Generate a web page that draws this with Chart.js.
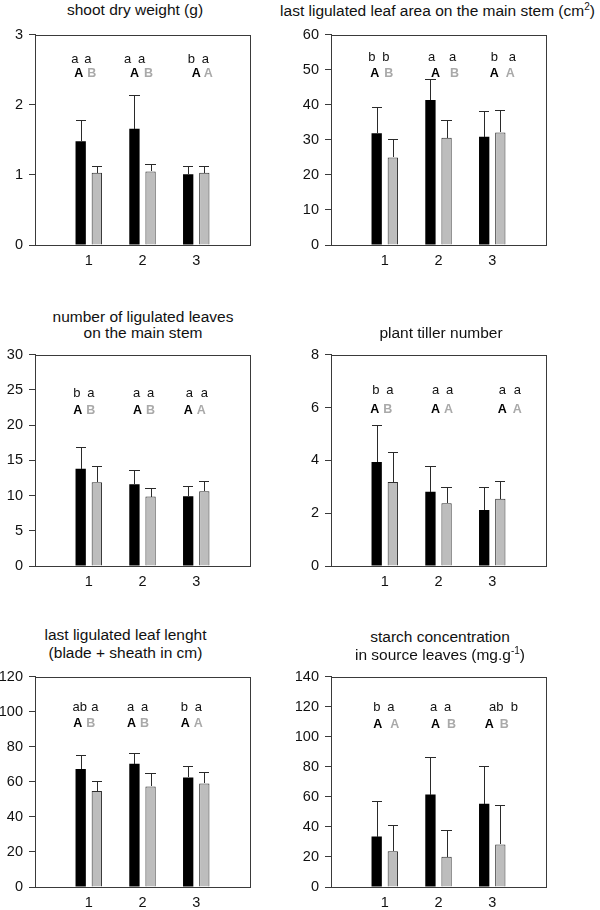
<!DOCTYPE html>
<html>
<head>
<meta charset="utf-8">
<script src="https://cdn.jsdelivr.net/npm/chart.js@4.4.1/dist/chart.umd.min.js"></script>
<style>
  html, body { margin: 0; padding: 0; background: #fff; }
  #page { position: relative; width: 600px; height: 910px; overflow: hidden;
          font-family: "Liberation Sans", Arial, Helvetica, sans-serif; color: #111; }
  .ttl { position: absolute; width: 400px; text-align: center; font-size: 15.5px;
         line-height: 18px; white-space: nowrap; }
  .ttl sup { font-size: 10px; line-height: 0; vertical-align: 6px; }
  canvas { position: absolute; }
</style>
</head>
<body>
<div id="page"></div>
<script>
const groups = ['1', '2', '3'];

/* shoot dry weight (g) */
const shootBlack   = [1.48, 1.66, 1.01];
const shootBlackSd = [0.30, 0.48, 0.12];
const shootGrey    = [1.03, 1.05, 1.03];
const shootGreySd  = [0.10, 0.11, 0.10];
const shootLower   = [['a', 'a'], ['a', 'a'], ['b', 'a']];
const shootUpper   = [['A', 'B'], ['A', 'B'], ['A', 'A']];
const shootTicks   = [0, 1, 2, 3];

/* last ligulated leaf area (cm2) */
const areaBlack   = [31.9, 41.4, 30.9];
const areaBlackSd = [7.5, 5.9, 7.3];
const areaGrey    = [25.0, 30.6, 32.1];
const areaGreySd  = [5.2, 5.2, 6.4];
const areaLower   = [['b', 'b'], ['a', 'a'], ['b', 'a']];
const areaUpper   = [['A', 'B'], ['A', 'B'], ['A', 'A']];
const areaTicks   = [0, 10, 20, 30, 40, 50, 60];

/* number of ligulated leaves */
const leavesBlack   = [13.8, 11.6, 9.9];
const leavesBlackSd = [3.1, 2.1, 1.4];
const leavesGrey    = [11.9, 9.85, 10.6];
const leavesGreySd  = [2.3, 1.25, 1.5];
const leavesLower   = [['b', 'a'], ['a', 'a'], ['a', 'a']];
const leavesUpper   = [['A', 'B'], ['A', 'B'], ['A', 'A']];
const leavesTicks   = [0, 5, 10, 15, 20, 25, 30];

/* plant tiller number */
const tillerBlack   = [3.94, 2.81, 2.12];
const tillerBlackSd = [1.39, 0.99, 0.88];
const tillerGrey    = [3.18, 2.38, 2.55];
const tillerGreySd  = [1.14, 0.60, 0.65];
const tillerLower   = [['b', 'a'], ['a', 'a'], ['a', 'a']];
const tillerUpper   = [['A', 'B'], ['A', 'A'], ['A', 'A']];
const tillerTicks   = [0, 2, 4, 6, 8];

/* last ligulated leaf length (cm) */
const lengthBlack   = [67.3, 70.3, 62.5];
const lengthBlackSd = [7.9, 6.4, 6.7];
const lengthGrey    = [54.8, 57.4, 59.1];
const lengthGreySd  = [5.6, 7.9, 6.5];
const lengthLower   = [['ab', 'a'], ['a', 'a'], ['b', 'a']];
const lengthUpper   = [['A', 'B'], ['A', 'B'], ['A', 'A']];
const lengthTicks   = [0, 20, 40, 60, 80, 100, 120];

/* starch concentration (mg.g-1) */
const starchBlack   = [33.6, 61.5, 55.4];
const starchBlackSd = [23.5, 24.9, 25.1];
const starchGrey    = [23.8, 20.1, 28.3];
const starchGreySd  = [17.2, 17.8, 26.2];
const starchLower   = [['b', 'a'], ['a', 'a'], ['ab', 'b']];
const starchUpper   = [['A', 'A'], ['A', 'B'], ['A', 'B']];
const starchTicks   = [0, 20, 40, 60, 80, 100, 120, 140];

const FONT = '"Liberation Sans", Arial, Helvetica, sans-serif';
const AXIS = '#3a3a3a';

/* layout: plot box position, titles, letter rows (y in data units) and letter x offsets */
const panels = [
  { black: shootBlack, blackSd: shootBlackSd, grey: shootGrey, greySd: shootGreySd,
    lower: shootLower, upper: shootUpper, ticks: shootTicks,
    plotLeft: 35, plotTop: 32, plotW: 215, plotH: 213,
    title: ['shoot dry weight (g)'], titleX: 135, titleY: [10],
    lowerY: 2.65, upperY: 2.44,
    dx: [[-14, -1, -10, 3], [-15, -1, -8, 6], [-5, 9, 0, 12]] },
  { black: areaBlack, blackSd: areaBlackSd, grey: areaGrey, greySd: areaGreySd,
    lower: areaLower, upper: areaUpper, ticks: areaTicks,
    plotLeft: 331, plotTop: 32, plotW: 215, plotH: 213,
    title: ['last ligulated leaf area on the main stem (cm<sup>2</sup>)'], titleX: 437.5, titleY: [11],
    lowerY: 53.5, upperY: 49,
    dx: [[-13, 1, -10, 4], [-7, 14, -3, 16], [2, 20, 2, 18]] },
  { black: leavesBlack, blackSd: leavesBlackSd, grey: leavesGrey, greySd: leavesGreySd,
    lower: leavesLower, upper: leavesUpper, ticks: leavesTicks,
    plotLeft: 35, plotTop: 352, plotW: 215, plotH: 214,
    title: ['number of ligulated leaves', 'on the main stem'], titleX: 143, titleY: [316.7, 333.3],
    lowerY: 24.5, upperY: 22,
    dx: [[-12, 2, -11, 2], [-6, 8, -5, 8], [-7, 8, -8, 5]] },
  { black: tillerBlack, blackSd: tillerBlackSd, grey: tillerGrey, greySd: tillerGreySd,
    lower: tillerLower, upper: tillerUpper, ticks: tillerTicks,
    plotLeft: 331, plotTop: 352, plotW: 215, plotH: 214,
    title: ['plant tiller number'], titleX: 441, titleY: [333.3],
    lowerY: 6.65, upperY: 5.94,
    dx: [[-9, 5, -10, 3], [-3, 11, -3, 10], [10, 25, 10, 25]] },
  { black: lengthBlack, blackSd: lengthBlackSd, grey: lengthGrey, greySd: lengthGreySd,
    lower: lengthLower, upper: lengthUpper, ticks: lengthTicks,
    plotLeft: 35, plotTop: 674, plotW: 215, plotH: 213.5,
    title: ['last ligulated leaf lenght', '(blade + sheath in cm)'], titleX: 125.5, titleY: [635, 653.3],
    lowerY: 102.5, upperY: 93.3,
    dx: [[-9, 6, -11, 2], [-12, 2, -11, 2], [-12, 2, -11, 2]] },
  { black: starchBlack, blackSd: starchBlackSd, grey: starchGrey, greySd: starchGreySd,
    lower: starchLower, upper: starchUpper, ticks: starchTicks,
    plotLeft: 331, plotTop: 674, plotW: 215, plotH: 213.5,
    title: ['starch concentration', 'in source leaves (mg.g<sup>-1</sup>)'], titleX: 440, titleY: [636.7, 655],
    lowerY: 119.6, upperY: 108.2,
    dx: [[-8, 6, -7, 10], [-5, 9, -3, 13], [4, 22, -3, 12]] },
];

function boxPlugin() {
  return {
    id: 'box',
    afterDraw(chart) {
      const { ctx, chartArea: a } = chart;
      ctx.save();
      ctx.strokeStyle = AXIS;
      ctx.lineWidth = 1;
      ctx.strokeRect(Math.round(a.left) + 0.5, Math.round(a.top) + 0.5,
                     Math.round(a.right - a.left), Math.round(a.bottom - a.top));
      ctx.restore();
    }
  };
}

function errorBarPlugin() {
  return {
    id: 'errorBars',
    afterDatasetsDraw(chart) {
      const ctx = chart.ctx, y = chart.scales.y;
      ctx.save();
      ctx.strokeStyle = '#2a2a2a';
      ctx.lineWidth = 1;
      chart.data.datasets.forEach((ds, di) => {
        chart.getDatasetMeta(di).data.forEach((bar, i) => {
          const top = Math.round(y.getPixelForValue(ds.data[i].y + ds.sd[i])) + 0.5;
          const xc = Math.round(bar.x) + 0.5, half = bar.width / 2;
          ctx.beginPath();
          ctx.moveTo(xc, Math.round(bar.y));
          ctx.lineTo(xc, top);
          ctx.moveTo(Math.round(bar.x - half), top);
          ctx.lineTo(Math.round(bar.x + half), top);
          ctx.stroke();
        });
      });
      ctx.restore();
    }
  };
}

function letterPlugin(p) {
  return {
    id: 'letters',
    afterDraw(chart) {
      const { ctx, scales: { x, y } } = chart;
      const yl = y.getPixelForValue(p.lowerY), yu = y.getPixelForValue(p.upperY);
      ctx.save();
      ctx.textAlign = 'center';
      ctx.textBaseline = 'middle';
      groups.forEach((g, i) => {
        const cx = x.getPixelForValue(i + 1), o = p.dx[i];
        ctx.font = '13px ' + FONT;
        ctx.fillStyle = '#111';
        ctx.fillText(p.lower[i][0], cx + o[0], yl);
        ctx.fillText(p.lower[i][1], cx + o[1], yl);
        ctx.font = 'bold 12.5px ' + FONT;
        ctx.fillStyle = '#000';
        ctx.fillText(p.upper[i][0], cx + o[2], yu);
        ctx.fillStyle = '#a9a9a9';
        ctx.fillText(p.upper[i][1], cx + o[3], yu);
      });
      ctx.restore();
    }
  };
}

function makeChart(p) {
  const page = document.getElementById('page');
  p.title.forEach((line, k) => {
    const d = document.createElement('div');
    d.className = 'ttl';
    d.style.left = (p.titleX - 200) + 'px';
    d.style.top = (p.titleY[k] - 9) + 'px';
    d.innerHTML = line;
    page.appendChild(d);
  });

  const padTop = 12, padRight = 12, axisW = 35, axisH = 30;
  const cv = document.createElement('canvas');
  cv.width = axisW + p.plotW + padRight;
  cv.height = padTop + p.plotH + axisH;
  cv.style.left = (p.plotLeft - axisW) + 'px';
  cv.style.top = (p.plotTop - padTop) + 'px';
  page.appendChild(cv);

  const bar = (vals, sd, fill, border, bw) => ({
    data: vals.map((v, i) => ({ x: i + 1, y: v })),
    sd: sd,
    backgroundColor: fill,
    borderColor: border,
    borderWidth: bw,
    categoryPercentage: 0.6,
    barPercentage: 0.64,
  });

  new Chart(cv, {
    type: 'bar',
    data: {
      datasets: [
        bar(p.black, p.blackSd, '#000', '#000', 0),
        bar(p.grey, p.greySd, '#bdbdbd', '#2e2e2e', 1),
      ],
    },
    options: {
      responsive: false,
      animation: false,
      events: [],
      layout: { padding: { left: 0, top: padTop, right: padRight, bottom: 0 } },
      plugins: { legend: { display: false }, tooltip: { enabled: false } },
      scales: {
        x: {
          type: 'linear',
          min: 0,
          max: 4,
          offset: false,
          afterBuildTicks: s => { s.ticks = groups.map((g, i) => ({ value: i + 1 })); },
          afterFit: s => { s.height = axisH; },
          ticks: {
            callback: v => groups[v - 1],
            color: '#111',
            font: { family: FONT, size: 14.5 },
            padding: 7,
            maxRotation: 0,
            autoSkip: false,
          },
          grid: { display: false, drawTicks: false },
          border: { display: true, color: AXIS, width: 1 },
        },
        y: {
          min: p.ticks[0],
          max: p.ticks[p.ticks.length - 1],
          afterBuildTicks: s => { s.ticks = p.ticks.map(v => ({ value: v })); },
          afterFit: s => { s.width = axisW; },
          ticks: {
            color: '#111',
            font: { family: FONT, size: 14.5 },
            padding: 6,
            autoSkip: false,
          },
          grid: { drawOnChartArea: false, drawTicks: true, tickLength: 6, color: AXIS, lineWidth: 1 },
          border: { display: true, color: AXIS, width: 1 },
        },
      },
    },
    plugins: [boxPlugin(), errorBarPlugin(), letterPlugin(p)],
  });
}

panels.forEach(makeChart);
</script>
</body>
</html>
